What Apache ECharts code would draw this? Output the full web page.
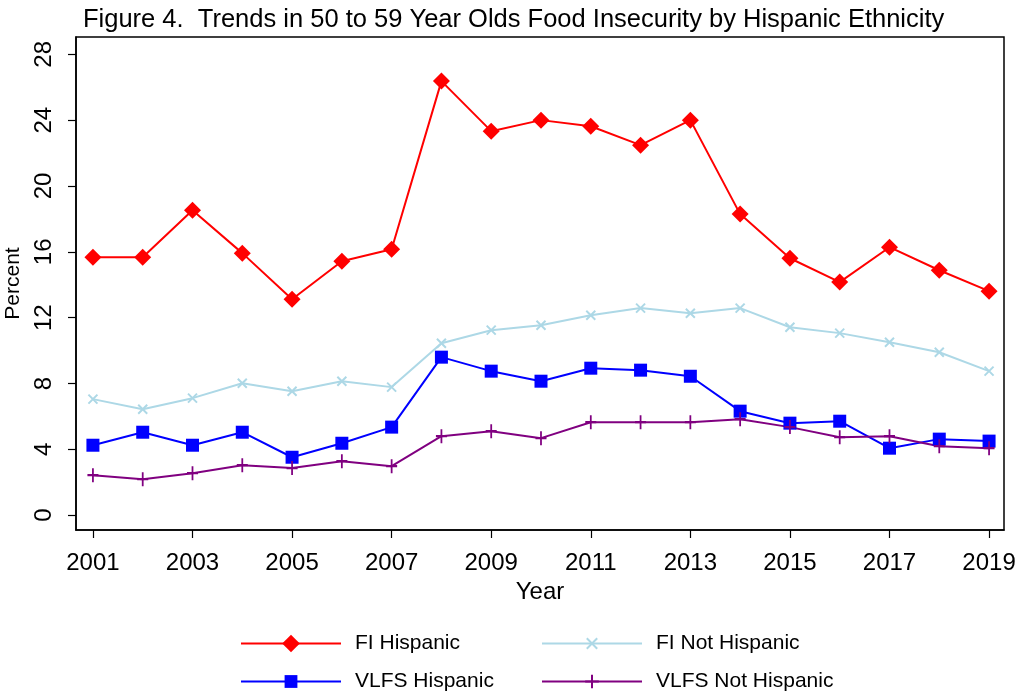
<!DOCTYPE html>
<html>
<head>
<meta charset="utf-8">
<script src="https://cdn.jsdelivr.net/npm/echarts@6/dist/echarts.min.js"></script>
<style>
  html, body { margin: 0; padding: 0; background: #fff; }
  #chart { width: 1021px; height: 696px; }
</style>
</head>
<body>
<div id="chart"></div>
<script>
// Survey years
const years = [2001, 2002, 2003, 2004, 2005, 2006, 2007, 2008, 2009, 2010,
               2011, 2012, 2013, 2014, 2015, 2016, 2017, 2018, 2019];

// Food insecurity (percent) among 50-59 year olds
const fiHispanic = [15.67, 15.67, 18.53, 15.92, 13.12, 15.43, 16.16, 26.37, 23.33, 24.0,
                    23.63, 22.48, 24.0, 18.29, 15.61, 14.16, 16.28, 14.88, 13.61];
const fiNotHispanic = [7.05, 6.44, 7.11, 8.02, 7.53, 8.14, 7.78, 10.45, 11.24, 11.54,
                       12.15, 12.58, 12.27, 12.58, 11.42, 11.06, 10.51, 9.90, 8.75];
const vlfsHispanic = [4.25, 5.04, 4.25, 5.04, 3.52, 4.37, 5.35, 9.60, 8.75, 8.14,
                      8.93, 8.81, 8.44, 6.32, 5.59, 5.71, 4.07, 4.62, 4.50];
const vlfsNotHispanic = [2.43, 2.19, 2.55, 3.04, 2.86, 3.28, 2.98, 4.80, 5.10, 4.68,
                         5.65, 5.65, 5.65, 5.83, 5.35, 4.74, 4.80, 4.19, 4.07];

// Tick labels
const xTicks = [2001, 2003, 2005, 2007, 2009, 2011, 2013, 2015, 2017, 2019];
const yTicks = [0, 4, 8, 12, 16, 20, 24, 28];

const FONT = 'Liberation Sans, Arial, Helvetica, sans-serif';

const pairs = vals => years.map((y, i) => [y, vals[i]]);

const crossPath = 'path://M0,0 L10,10 M10,0 L0,10';
const plusPath = 'path://M5,0 L5,14 M0,7 L10,7';

function makeSeries(name, vals, color, symbol, size, stroke) {
  return {
    name: name,
    type: 'line',
    data: pairs(vals),
    symbol: symbol,
    symbolSize: size,
    showSymbol: true,
    lineStyle: { color: color, width: 2 },
    itemStyle: stroke
      ? { color: color, borderColor: color, borderWidth: 2 }
      : { color: color, borderWidth: 0 },
    emphasis: { disabled: true },
    animation: false
  };
}

// One legend block per entry, laid out as a 2 x 2 table.
// The legend marker is scaled from itemHeight, so each entry gets its own height;
// the block height is set by the text, so all rows share the same top offset.
function legendAt(name, left, rowCenter, h) {
  return {
    data: [name],
    left: left,
    top: rowCenter - 16,
    itemWidth: 100,
    itemHeight: h,
    selectedMode: false,
    textStyle: { fontFamily: FONT, fontSize: 21, color: '#000', padding: [0, 0, 0, 9] }
  };
}

const chart = echarts.init(document.getElementById('chart'), null, { renderer: 'canvas' });

chart.setOption({
  backgroundColor: '#fff',
  title: {
    text: 'Figure 4.  Trends in 50 to 59 Year Olds Food Insecurity by Hispanic Ethnicity',
    left: 78,
    top: 2,
    textStyle: { fontFamily: FONT, fontSize: 25.5, fontWeight: 'normal', color: '#000' }
  },
  legend: [
    legendAt('FI Hispanic', 235, 644, 22),
    legendAt('FI Not Hispanic', 536, 644, 13),
    legendAt('VLFS Hispanic', 235, 682, 16),
    legendAt('VLFS Not Hispanic', 536, 682, 17)
  ],
  grid: {
    left: 76, right: 17, top: 37, bottom: 166,
    outerBoundsMode: 'none',
    containLabel: false,
    show: true, borderColor: '#000', borderWidth: 1.5, backgroundColor: '#fff'
  },
  xAxis: {
    type: 'value',
    min: 2000.66,
    max: 2019.3,
    name: 'Year',
    nameLocation: 'middle',
    nameGap: 48,
    nameTextStyle: { fontFamily: FONT, fontSize: 24, color: '#000' },
    axisLine: { show: true, onZero: false, lineStyle: { color: '#000', width: 1.5 } },
    axisTick: { show: true, length: 8, customValues: xTicks, lineStyle: { color: '#000', width: 1.2 } },
    axisLabel: {
      customValues: xTicks, margin: 21,
      fontFamily: FONT, fontSize: 24, color: '#000',
      formatter: v => String(v)
    },
    splitLine: { show: false }
  },
  yAxis: {
    type: 'value',
    min: -0.9,
    max: 29.05,
    name: 'Percent',
    nameLocation: 'middle',
    nameGap: 40,
    nameTextStyle: { fontFamily: FONT, fontSize: 21, color: '#000' },
    axisLine: { show: true, onZero: false, lineStyle: { color: '#000', width: 1.5 } },
    axisTick: { show: true, length: 8, customValues: yTicks, lineStyle: { color: '#000', width: 1.2 } },
    axisLabel: {
      customValues: yTicks, rotate: 90, margin: 20,
      fontFamily: FONT, fontSize: 24, color: '#000',
      formatter: v => String(v)
    },
    splitLine: { show: false }
  },
  series: [
    makeSeries('FI Hispanic', fiHispanic, '#ff0000', 'diamond', [17, 17], false),
    makeSeries('FI Not Hispanic', fiNotHispanic, '#add8e6', crossPath, [9, 9], true),
    makeSeries('VLFS Hispanic', vlfsHispanic, '#0000ff', 'rect', [13, 13], false),
    makeSeries('VLFS Not Hispanic', vlfsNotHispanic, '#800080', plusPath, [11, 14], true)
  ]
});
</script>
</body>
</html>
